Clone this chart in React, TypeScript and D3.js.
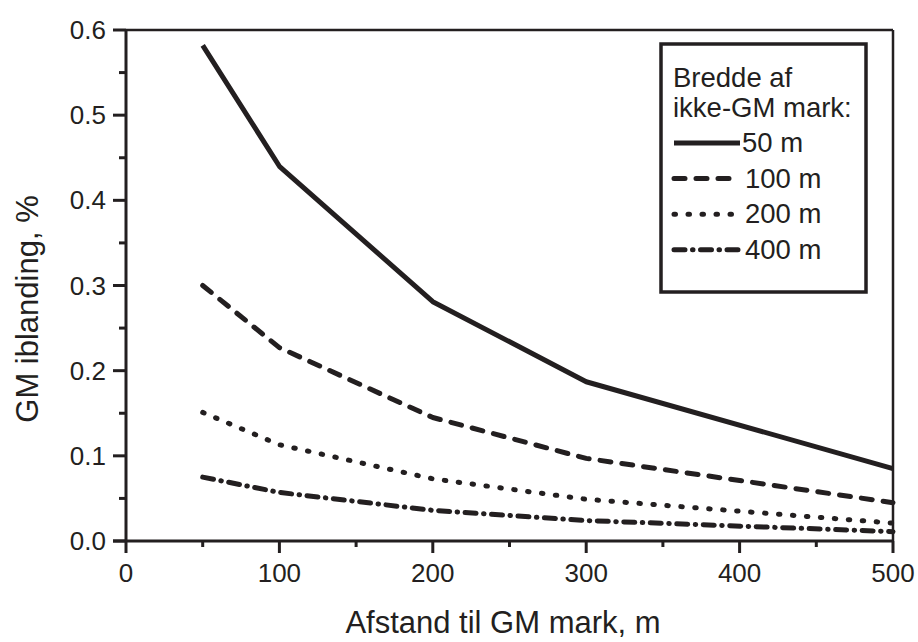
import React from "react";
import * as d3 from "d3";

// distance to the GM field (m)
const distances = [50, 100, 200, 300, 500];

// GM admixture (%) for each width of the non-GM field
const width50 = [0.582, 0.44, 0.281, 0.187, 0.085];
const width100 = [0.3, 0.227, 0.145, 0.097, 0.045];
const width200 = [0.151, 0.113, 0.073, 0.049, 0.021];
const width400 = [0.075, 0.057, 0.036, 0.024, 0.011];

const seriesLabels = ["50 m", "100 m", "200 m", "400 m"];
const xTicks = [0, 100, 200, 300, 400, 500];
const yTicks = [0.0, 0.1, 0.2, 0.3, 0.4, 0.5, 0.6];

const ink = "#231f20";
const font = "'Liberation Sans', Arial, Helvetica, sans-serif";

const styles = [
  { dash: null, cap: "butt" },
  { dash: "11,11", cap: "round" },
  { dash: "1.5,12.5", cap: "round" },
  { dash: "11,7.5,0.5,7.5", cap: "round" },
];

export default function App() {
  const width = 918;
  const height = 642;
  const left = 126;
  const right = 893;
  const top = 30;
  const bottom = 541;

  const x = d3.scaleLinear().domain([0, 500]).range([left, right]);
  const y = d3.scaleLinear().domain([0, 0.6]).range([bottom, top]);

  const line = d3
    .line<number>()
    .x((d, i) => x(distances[i]))
    .y((d) => y(d));

  const series = [width50, width100, width200, width400];

  const xMinor = d3.range(50, 500, 100);
  const yMinor = d3.range(0.05, 0.6, 0.1);

  const legendX = 661;
  const legendY = 44;

  return (
    <svg
      width={width}
      height={height}
      style={{ position: "absolute", left: 0, top: 0, background: "#fff" }}
      fontFamily={font}
    >
      {/* frame */}
      <line x1={left} x2={right} y1={top} y2={top} stroke={ink} strokeWidth={2.5} />
      <line x1={right} x2={right} y1={top} y2={bottom} stroke={ink} strokeWidth={2.5} />
      <line x1={left} x2={left} y1={top - 1} y2={bottom} stroke={ink} strokeWidth={3} />
      <line x1={left - 13} x2={right + 1} y1={bottom} y2={bottom} stroke={ink} strokeWidth={3} />

      {/* y ticks */}
      {yTicks.map((t) => (
        <g key={"y" + t}>
          <line x1={left - 13} x2={left} y1={y(t)} y2={y(t)} stroke={ink} strokeWidth={3} />
          <text
            x={left - 20}
            y={y(t)}
            dy="0.35em"
            textAnchor="end"
            fontSize={26}
            fill={ink}
          >
            {t.toFixed(1)}
          </text>
        </g>
      ))}
      {yMinor.map((t) => (
        <line key={"ym" + t} x1={left - 7} x2={left} y1={y(t)} y2={y(t)} stroke={ink} strokeWidth={3} />
      ))}

      {/* x ticks */}
      {xTicks.map((t) => (
        <g key={"x" + t}>
          <line x1={x(t)} x2={x(t)} y1={bottom} y2={bottom + 12} stroke={ink} strokeWidth={3} />
          <text x={x(t)} y={582} textAnchor="middle" fontSize={26} fill={ink}>
            {t}
          </text>
        </g>
      ))}
      {xMinor.map((t) => (
        <line key={"xm" + t} x1={x(t)} x2={x(t)} y1={bottom} y2={bottom + 6} stroke={ink} strokeWidth={3} />
      ))}

      {/* axis titles */}
      <text x={503} y={633} textAnchor="middle" fontSize={31} fill={ink}>
        Afstand til GM mark, m
      </text>
      <text
        transform={`translate(38, ${309}) rotate(-90)`}
        textAnchor="middle"
        fontSize={31}
        fill={ink}
      >
        GM iblanding, %
      </text>

      {/* data */}
      {series.map((s, i) => (
        <path
          key={"s" + i}
          d={line(s) || ""}
          fill="none"
          stroke={ink}
          strokeWidth={5}
          strokeLinejoin="round"
          strokeLinecap={styles[i].cap as any}
          strokeDasharray={styles[i].dash || undefined}
        />
      ))}

      {/* legend */}
      <rect
        x={legendX}
        y={legendY}
        width={205}
        height={248}
        fill="#fff"
        stroke={ink}
        strokeWidth={3.5}
      />
      <text x={673} y={87} fontSize={27.5} fill={ink}>
        Bredde af
      </text>
      <text x={673} y={117} fontSize={27.5} fill={ink}>
        ikke-GM mark:
      </text>
      {seriesLabels.map((lab, i) => {
        const ly = 143 + i * 35.6;
        return (
          <g key={"l" + i}>
            <line
              x1={674}
              x2={740}
              y1={ly}
              y2={ly}
              stroke={ink}
              strokeWidth={5}
              strokeLinecap={styles[i].cap as any}
              strokeDasharray={styles[i].dash || undefined}
            />
            <text x={i === 0 ? 742 : 745} y={ly + 9} fontSize={27.5} fill={ink}>
              {lab}
            </text>
          </g>
        );
      })}
    </svg>
  );
}
